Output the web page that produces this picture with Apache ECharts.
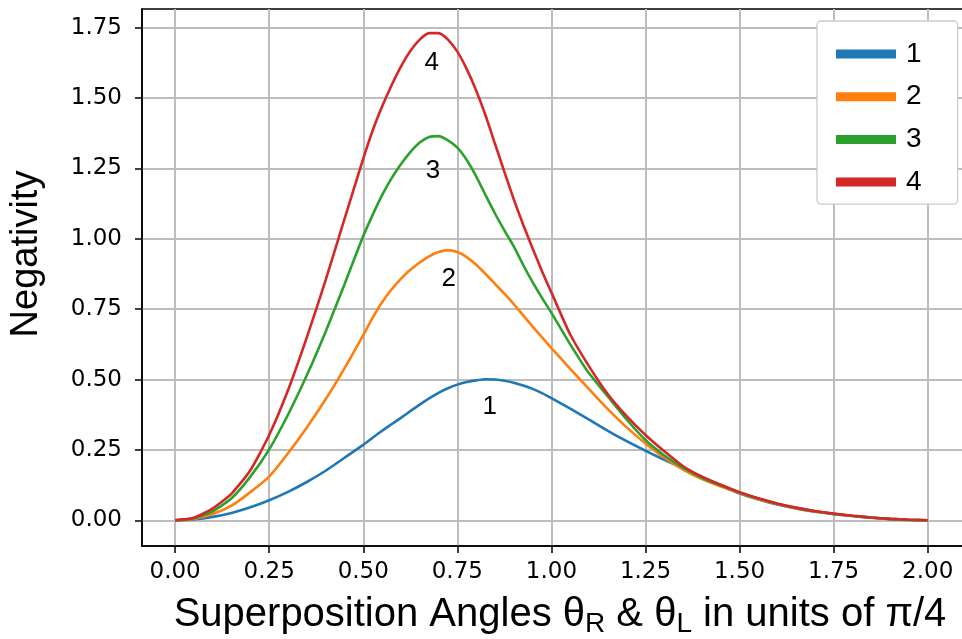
<!DOCTYPE html>
<html>
<head>
<meta charset="utf-8">
<script src="https://cdn.jsdelivr.net/npm/echarts@6/dist/echarts.min.js"></script>
<style>
  html, body { margin: 0; padding: 0; background: #fff; }
  #chart { width: 962px; height: 639px; }
</style>
</head>
<body>
<div id="chart"></div>
<script>
// Superposition angle (units of pi/4); finer sampling around the peaks
const angles = [0, 0.05, 0.1, 0.15, 0.2, 0.25, 0.3, 0.35, 0.4, 0.45, 0.5,
  0.525, 0.55, 0.575, 0.6, 0.625, 0.65, 0.675, 0.7, 0.725, 0.75,
  0.775, 0.8, 0.825, 0.85, 0.875, 0.9, 0.925, 0.95, 0.975, 1.0,
  1.05, 1.1, 1.15, 1.2, 1.25, 1.3, 1.35, 1.4, 1.45, 1.5,
  1.55, 1.6, 1.65, 1.7, 1.75, 1.8, 1.85, 1.9, 1.95, 2.0];

// Negativity for each case
const neg1 = [0, 0.003, 0.012, 0.026, 0.046, 0.071, 0.101, 0.136, 0.176, 0.222, 0.268,
  0.293, 0.318, 0.341, 0.364, 0.388, 0.411, 0.433, 0.453, 0.469, 0.482,
  0.491, 0.497, 0.501, 0.500, 0.496, 0.489, 0.479, 0.467, 0.452, 0.434,
  0.397, 0.358, 0.318, 0.281, 0.247, 0.215, 0.185, 0.154, 0.124, 0.095,
  0.074, 0.056, 0.042, 0.030, 0.022, 0.015, 0.009, 0.004, 0.001, 0];
const neg2 = [0, 0.005, 0.022, 0.052, 0.1, 0.155, 0.238, 0.33, 0.43, 0.54, 0.658,
  0.72, 0.775, 0.82, 0.858, 0.89, 0.916, 0.938, 0.953, 0.96, 0.953,
  0.935, 0.908, 0.875, 0.84, 0.805, 0.768, 0.728, 0.688, 0.65, 0.612,
  0.538, 0.466, 0.395, 0.33, 0.273, 0.222, 0.18, 0.146, 0.12, 0.097,
  0.075, 0.058, 0.043, 0.031, 0.023, 0.015, 0.009, 0.005, 0.002, 0];
const neg3 = [0, 0.007, 0.032, 0.078, 0.155, 0.252, 0.375, 0.515, 0.67, 0.838, 1.01,
  1.085, 1.155, 1.215, 1.265, 1.308, 1.342, 1.362, 1.365, 1.35, 1.324,
  1.28, 1.222, 1.155, 1.09, 1.03, 0.973, 0.907, 0.846, 0.79, 0.737,
  0.625, 0.522, 0.44, 0.358, 0.285, 0.23, 0.186, 0.151, 0.123, 0.099,
  0.077, 0.059, 0.044, 0.032, 0.023, 0.016, 0.010, 0.005, 0.002, 0];
const neg4 = [0, 0.009, 0.042, 0.095, 0.178, 0.303, 0.462, 0.65, 0.853, 1.07, 1.285,
  1.385, 1.47, 1.545, 1.612, 1.667, 1.708, 1.731, 1.731, 1.708, 1.665,
  1.603, 1.527, 1.438, 1.338, 1.238, 1.14, 1.05, 0.966, 0.885, 0.809,
  0.66, 0.547, 0.448, 0.37, 0.303, 0.245, 0.192, 0.155, 0.126, 0.100,
  0.078, 0.060, 0.045, 0.033, 0.024, 0.016, 0.010, 0.005, 0.002, 0];

const seriesNames = ['1', '2', '3', '4'];
const seriesValues = [neg1, neg2, neg3, neg4];
const seriesColors = ['#1f77b4', '#ff7f0e', '#2ca02c', '#d62728'];

// In-plot curve annotations: [angle, negativity]
const annotX = [0.836, 0.727, 0.685, 0.682];
const annotY = [0.402, 0.858, 1.242, 1.627];

const xTicks = [0, 0.25, 0.5, 0.75, 1.0, 1.25, 1.5, 1.75, 2.0];
const yTicks = [0, 0.25, 0.5, 0.75, 1.0, 1.25, 1.5, 1.75];

const sansFont = '"Liberation Sans", Arial, sans-serif';
const tickFont = '"DejaVu Sans", sans-serif';

const chart = echarts.init(document.getElementById('chart'), null, { renderer: 'canvas' });

const series = seriesNames.map((name, i) => ({
  name: name,
  type: 'line',
  data: angles.map((a, j) => [a, seriesValues[i][j]]),
  showSymbol: false,
  smooth: 0.2,
  lineStyle: { color: seriesColors[i], width: 2.6 },
  itemStyle: { color: seriesColors[i] },
  z: 3 + i,
  markPoint: {
    symbol: 'circle',
    symbolSize: 0,
    silent: true,
    data: [{ coord: [annotX[i], annotY[i]], value: name }],
    label: {
      show: true,
      position: 'inside',
      formatter: name,
      fontFamily: sansFont,
      fontSize: 26,
      color: '#000'
    }
  }
}));

chart.setOption({
  animation: false,
  backgroundColor: '#fff',
  grid: {
    left: 142, right: -2, top: 9, bottom: 93,
    containLabel: false,
    outerBoundsMode: 'none',
    show: true,
    borderColor: '#000',
    borderWidth: 1.6,
    backgroundColor: 'transparent'
  },
  legend: {
    orient: 'vertical',
    left: 817,
    top: 21,
    icon: 'rect',
    itemWidth: 60,
    itemHeight: 9,
    itemGap: 12.7,
    padding: [18, 36, 7, 19],
    backgroundColor: '#fff',
    borderColor: '#cccccc',
    borderWidth: 1.3,
    borderRadius: 4,
    textStyle: { fontFamily: sansFont, fontSize: 28, color: '#000', lineHeight: 30, padding: [0, 0, 0, 5] },
    data: seriesNames
  },
  xAxis: {
    type: 'value',
    min: -0.088,
    max: 2.0964,
    axisLine: { show: true, onZero: false, lineStyle: { color: '#000', width: 1.6 } },
    axisTick: { show: true, length: 7, lineStyle: { color: '#000', width: 1.5 }, customValues: xTicks },
    axisLabel: {
      customValues: xTicks,
      formatter: v => v.toFixed(2),
      fontFamily: tickFont, fontSize: 23, color: '#000', margin: 15
    },
    splitLine: { show: true, lineStyle: { color: '#bdbdbd', width: 2 } },
    name: '{m|Superposition Angles θ}{s|R}{m| & θ}{s|L}{m| in units of π/4}',
    nameLocation: 'middle',
    nameGap: 46,
    nameTextStyle: {
      padding: [0, 0, 0, 14],
      rich: {
        m: { fontFamily: sansFont, fontSize: 40, lineHeight: 46, color: '#000' },
        s: { fontFamily: sansFont, fontSize: 28, lineHeight: 25, verticalAlign: 'bottom', color: '#000' }
      }
    }
  },
  yAxis: {
    type: 'value',
    min: -0.0914,
    max: 1.8166,
    axisLine: { show: true, onZero: false, lineStyle: { color: '#000', width: 1.6 } },
    axisTick: { show: true, length: 7, lineStyle: { color: '#000', width: 1.5 }, customValues: yTicks },
    axisLabel: {
      customValues: yTicks,
      formatter: v => v.toFixed(2),
      fontFamily: tickFont, fontSize: 23, color: '#000', margin: 20
    },
    splitLine: { show: true, lineStyle: { color: '#bdbdbd', width: 2 } },
    name: 'Negativity',
    nameLocation: 'middle',
    nameGap: 93,
    nameTextStyle: { fontFamily: sansFont, fontSize: 38, lineHeight: 44, color: '#000', padding: [0, 0, 0, 47] }
  },
  series: series
});
</script>
</body>
</html>
